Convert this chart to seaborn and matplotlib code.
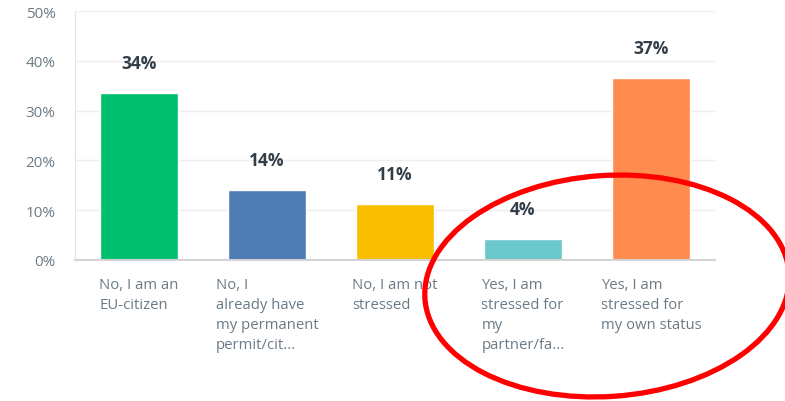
import matplotlib
matplotlib.use("Agg")
import matplotlib.pyplot as plt
import matplotlib.transforms as mtransforms
from matplotlib.patches import Ellipse
import seaborn as sns
import pandas as pd

# -----------------------------
# DATA
# -----------------------------
answers = [
    "No, I am an\nEU-citizen",
    "No, I\nalready have\nmy permanent\npermit/cit...",
    "No, I am not\nstressed",
    "Yes, I am\nstressed for\nmy\npartner/fa...",
    "Yes, I am\nstressed for\nmy own status",
]
shares = [33.6, 14.1, 11.2, 4.2, 36.5]
share_labels = ["34%", "14%", "11%", "4%", "37%"]
bar_colors = ["#00bf6f", "#507cb6", "#f9be00", "#6bc8cd", "#ff8b4f"]
y_ticks = [0, 10, 20, 30, 40, 50]

df = pd.DataFrame({"answer": answers, "share": shares})

# -----------------------------
# PLOT
# -----------------------------
sns.set_style("white")
plt.rcParams["font.family"] = ["Open Sans", "DejaVu Sans"]

fig = plt.figure(figsize=(7.85, 4.02), dpi=100)
ax = fig.add_axes([75 / 785, 1 - 261 / 402, 640 / 785, 249 / 402])

sns.barplot(data=df, x="answer", y="share", hue="answer", palette=bar_colors,
            legend=False, width=0.61, saturation=1, ax=ax)

ax.set_xlim(-0.5, 4.5)
ax.set_ylim(0, 50)
ax.set_yticks(y_ticks)
ax.set_yticklabels([f"{t}%" for t in y_ticks])
ax.set_xlabel("")
ax.set_ylabel("")

# grid
ax.yaxis.grid(True, color="#eeeeee", linewidth=1)
ax.set_axisbelow(True)
for side in ["top", "right"]:
    ax.spines[side].set_visible(False)
ax.spines["left"].set_color("#e3e3e3")
ax.spines["bottom"].set_color("#d3d3d3")
ax.spines["bottom"].set_linewidth(1.5)

ax.tick_params(axis="y", length=0, pad=14, labelsize=11, labelcolor="#6b7a85")
ax.tick_params(axis="x", length=0, pad=12.5, labelsize=10.7, labelcolor="#6b7a85")
for lbl in ax.get_xticklabels():
    lbl.set_multialignment("left")
    lbl.set_linespacing(1.45)

# value labels
for i, (v, s) in enumerate(zip(shares, share_labels)):
    ax.annotate(s, (i, v), xytext=(0, 21.5), textcoords="offset points",
                ha="center", va="center", fontsize=12.5, fontweight="bold",
                color="#333e48")

# red circle drawn over the chart
ring = Ellipse((607, 402 - 287), 365, 221, angle=4, fill=False,
               edgecolor="#ff0000", linewidth=3.8,
               transform=mtransforms.IdentityTransform(), clip_on=False)
fig.patches.append(ring)

fig.savefig("out.png", dpi=100)
